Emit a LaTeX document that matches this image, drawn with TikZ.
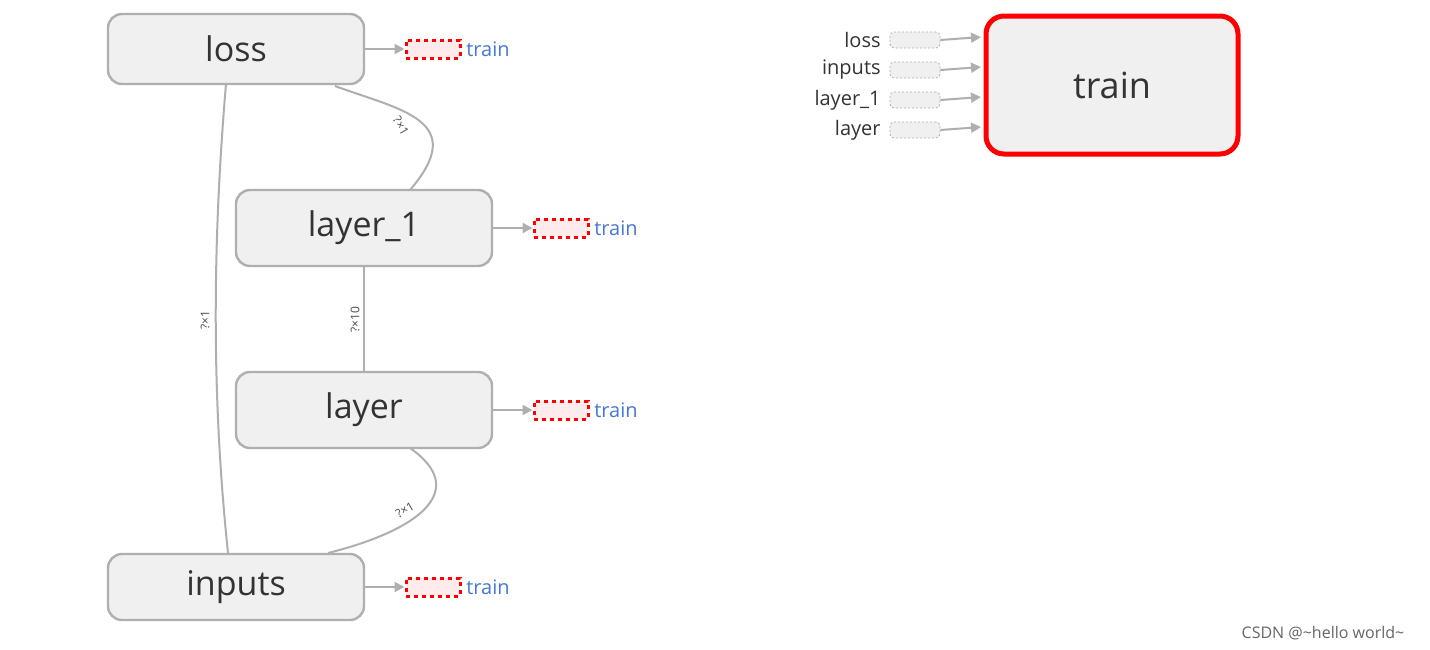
\documentclass[tikz,border=0pt]{standalone}
\usepackage{fontspec}
\setmainfont{Open Sans}
\usetikzlibrary{arrows.meta}
\definecolor{nodefill}{RGB}{240,240,240}
\definecolor{nodeedge}{RGB}{175,175,175}
\definecolor{tblue}{RGB}{70,120,210}
\begin{document}
\begin{tikzpicture}[x=0.5pt,y=-0.5pt,
  op/.style={draw=nodeedge,line width=1.2pt,fill=nodefill,rounded corners=7pt,minimum width=128pt,inner sep=0pt,text=black!80,font=\fontsize{17}{17}\selectfont},
  edge/.style={draw=nodeedge,line width=1pt},
  arr/.style={edge,-{Triangle[length=5pt,width=5pt]}},
  tr/.style={draw=red,dashed,line width=1.5pt,dash pattern=on 2pt off 2pt,fill=red!8,minimum width=27pt,minimum height=9pt,inner sep=0pt},
  trl/.style={text=tblue,font=\fontsize{10}{10}\selectfont,anchor=west,inner sep=1pt},
  lab/.style={font=\fontsize{6}{6}\selectfont,text=black!70,inner sep=0pt},
  ph/.style={draw=nodeedge,dashed,dash pattern=on 1pt off 1pt,fill=nodefill,minimum width=25pt,minimum height=8pt,inner sep=0pt,rounded corners=2pt},
  inl/.style={font=\fontsize{10}{10}\selectfont,anchor=east,inner sep=0pt,text=black!80}]
\useasboundingbox[fill=white] (0,0) rectangle (1430,649);
\node[op,minimum height=35pt] (loss) at (236,49) {loss};
\node[op,minimum height=38pt] (l1) at (364,228) {layer\_1};
\node[op,minimum height=38pt] (ly) at (364,410) {layer};
\node[op,minimum height=33pt] (in) at (236,587) {inputs};
\node[tr] (t1) at (433,49) {}; \node[trl] (t1l) at (464,49) {train};
\node[tr] (t2) at (561,228) {}; \node[trl] (t2l) at (592,228) {train};
\node[tr] (t3) at (561,410) {}; \node[trl] (t3l) at (592,410) {train};
\node[tr] (t4) at (433,587) {}; \node[trl] (t4l) at (464,587) {train};
\draw[arr] (loss.east) -- (t1.west);
\draw[arr] (l1.east) -- (t2.west);
\draw[arr] (ly.east) -- (t3.west);
\draw[arr] (in.east) -- (t4.west);
\coordinate (a1) at (226,84); \coordinate (a2) at (228,553);
\draw[edge] (a1) .. controls (212,250) and (212,400) .. (a2);
\node[lab,rotate=90] (lb1) at (205,320) {?×1};
\coordinate (b1) at (335,86); \coordinate (b2) at (410,190);
\draw[edge] (b1) .. controls (400,110) and (470,120) .. (b2);
\node[lab,rotate=-60] (lb2) at (401,126) {?×1};
\draw[edge] (l1.south) -- (ly.north);
\node[lab,rotate=90] (lb3) at (355,320) {?×10};
\coordinate (c1) at (410,448); \coordinate (c2) at (328,553);
\draw[edge] (c1) .. controls (470,490) and (420,530) .. (c2);
\node[lab,rotate=30] (lb4) at (405,510) {?×1};
\node[draw=red,line width=2.5pt,fill=nodefill,rounded corners=9pt,minimum width=126pt,minimum height=69pt,inner sep=0pt,text=black!80,font=\fontsize{18}{18}\selectfont] (train) at (1112,85) {train};
\foreach \nm/\t/\y in {p1/loss/40,p2/inputs/70,p3/layer\_1/100,p4/layer/130}{
  \node[ph] (\nm) at (915,\y) {};
  \node[inl] (\nm l) at (881,\y) {\t};
  \draw[arr] (\nm.east) -- (981,\y-3);
}
\node[font=\fontsize{8}{8}\selectfont,text=black!60] (wm) at (1323,633) {CSDN @\textasciitilde hello world\textasciitilde};
\end{tikzpicture}
\end{document}
